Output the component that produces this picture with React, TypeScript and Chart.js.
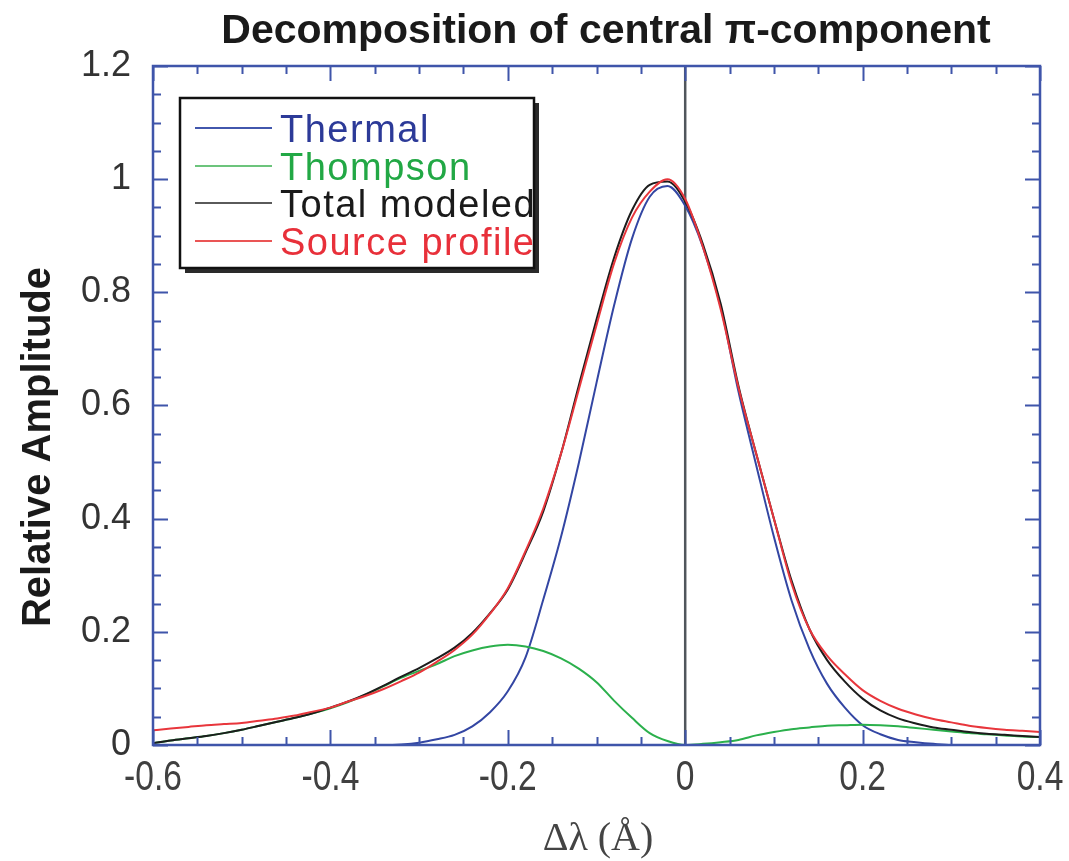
import React, { useEffect, useRef } from "react";
import { Chart, registerables } from "chart.js";
Chart.register(...registerables);

const xValues = [
  -0.6, -0.58, -0.56, -0.54, -0.52, -0.5, -0.48, -0.46, -0.44, -0.42,
  -0.4, -0.38, -0.36, -0.34, -0.32, -0.3, -0.28, -0.26, -0.24, -0.22,
  -0.2, -0.18, -0.16, -0.14, -0.12, -0.1, -0.08, -0.06, -0.04, -0.02,
  0.0, 0.02, 0.04, 0.06, 0.08, 0.1, 0.12, 0.14, 0.16, 0.18,
  0.2, 0.22, 0.24, 0.26, 0.28, 0.3, 0.32, 0.34, 0.36, 0.38, 0.4,
];

const thermal = [
  0, 0, 0, 0, 0, 0, 0, 0, 0, 0,
  0, 0, 0, 0, 0.001, 0.004, 0.01, 0.018, 0.033, 0.058,
  0.095, 0.155, 0.257, 0.368, 0.498, 0.64, 0.778, 0.895, 0.969, 0.988,
  0.953, 0.88, 0.775, 0.625, 0.495, 0.368, 0.255, 0.17, 0.108, 0.066,
  0.035, 0.019, 0.009, 0.005, 0.002, 0, 0, 0, 0, 0, 0,
];

const thompson = [
  0.003, 0.008, 0.012, 0.016, 0.021, 0.027, 0.034, 0.041, 0.048, 0.056,
  0.065, 0.076, 0.089, 0.104, 0.119, 0.131, 0.143, 0.157, 0.167, 0.174,
  0.177, 0.174, 0.166, 0.153, 0.135, 0.111, 0.078, 0.048, 0.021, 0.007,
  0.0, 0.002, 0.005, 0.009, 0.017, 0.023, 0.028, 0.031, 0.034, 0.035,
  0.036, 0.035, 0.033, 0.03, 0.027, 0.024, 0.021, 0.019, 0.017, 0.015, 0.014,
];

const totalModeled = [
  0.003, 0.008, 0.012, 0.016, 0.021, 0.027, 0.034, 0.041, 0.048, 0.056,
  0.066, 0.077, 0.09, 0.105, 0.121, 0.136, 0.153, 0.172, 0.198, 0.233,
  0.275, 0.34, 0.413, 0.515, 0.635, 0.752, 0.862, 0.945, 0.99, 0.996,
  0.96, 0.885, 0.78, 0.635, 0.515, 0.4, 0.29, 0.205, 0.15, 0.112,
  0.082, 0.061, 0.047, 0.038, 0.031, 0.027, 0.023, 0.02, 0.018, 0.016, 0.014,
];

const sourceProfile = [
  0.026, 0.029, 0.032, 0.035, 0.037, 0.039, 0.043, 0.047, 0.052, 0.059,
  0.066, 0.077, 0.087, 0.099, 0.113, 0.128, 0.147, 0.168, 0.195, 0.232,
  0.277, 0.343, 0.418, 0.515, 0.628, 0.742, 0.852, 0.932, 0.978, 1.0,
  0.965, 0.88, 0.77, 0.632, 0.515, 0.4, 0.285, 0.205, 0.158, 0.125,
  0.097, 0.078, 0.064, 0.054, 0.046, 0.04, 0.034, 0.03, 0.027, 0.025, 0.023,
];

const xTickLabels = ["-0.6", "-0.4", "-0.2", "0", "0.2", "0.4"];
const yTickLabels = ["0", "0.2", "0.4", "0.6", "0.8", "1", "1.2"];

const seriesNames = ["Thermal", "Thompson", "Total modeled", "Source profile"];
const lineColors = ["#3346a3", "#2bb04c", "#1c1c1c", "#e8363c"];
const legendLineColors = ["#4257ad", "#6cc47c", "#5a5a5a", "#ea5555"];
const legendTextColors = ["#2c3a98", "#22a845", "#1a1a1a", "#e8303a"];

const titleText = "Decomposition of central \u03c0-component";
const yTitleText = "Relative Amplitude";
const xTitleText = "\u0394\u03bb (\u00c5)";

function pts(ys: number[]) {
  return xValues.map((x, i) => ({ x, y: ys[i] }));
}

function labelFor(list: string[], v: number) {
  const r = Math.round(v * 10) / 10;
  const found = list.find((s) => Math.abs(parseFloat(s) - r) < 1e-9);
  return found ?? "";
}

const decoPlugin = {
  id: "deco",
  beforeDatasetsDraw(chart: any) {
    const { ctx, chartArea, scales } = chart;
    const x0 = scales.x.getPixelForValue(0);
    ctx.save();
    ctx.strokeStyle = "#50565c";
    ctx.lineWidth = 2.5;
    ctx.beginPath();
    ctx.moveTo(x0, chartArea.top);
    ctx.lineTo(x0, chartArea.bottom);
    ctx.stroke();
    ctx.restore();
  },
  afterDraw(chart: any) {
    const { ctx, chartArea, scales } = chart;
    const { left, right, top, bottom } = chartArea;
    const xs = scales.x;
    const ys = scales.y;
    ctx.save();
    // ticks inward
    ctx.strokeStyle = "#3f55aa";
    ctx.lineWidth = 2;
    ctx.beginPath();
    for (let k = 0; k <= 20; k++) {
      const v = -0.6 + k * 0.05;
      const px = Math.round(xs.getPixelForValue(v)) + 0.5;
      const len = k % 4 === 0 ? 15 : 8;
      ctx.moveTo(px, bottom);
      ctx.lineTo(px, bottom - len);
      ctx.moveTo(px, top);
      ctx.lineTo(px, top + len);
    }
    for (let k = 0; k <= 24; k++) {
      const v = k * 0.05;
      const py = Math.round(ys.getPixelForValue(v)) + 0.5;
      const len = k % 4 === 0 ? 15 : 8;
      ctx.moveTo(left, py);
      ctx.lineTo(left + len, py);
      ctx.moveTo(right, py);
      ctx.lineTo(right - len, py);
    }
    ctx.stroke();
    // frame
    ctx.lineWidth = 2.5;
    ctx.strokeRect(left, top, right - left, bottom - top);

    // x tick labels (condensed)
    ctx.fillStyle = "#404040";
    ctx.font = "42px Arial, 'Liberation Sans', sans-serif";
    ctx.textAlign = "center";
    ctx.textBaseline = "alphabetic";
    for (const s of xTickLabels) {
      const px = xs.getPixelForValue(parseFloat(s));
      ctx.save();
      ctx.translate(px, 790);
      ctx.scale(0.8, 1);
      ctx.fillText(s, 0, 0);
      ctx.restore();
    }

    // legend box
    const bx = 180, by = 98, bw = 354, bh = 170;
    ctx.fillStyle = "#2a2a2a";
    ctx.fillRect(bx + 5, by + 5, bw, bh);
    ctx.fillStyle = "#ffffff";
    ctx.fillRect(bx, by, bw, bh);
    ctx.strokeStyle = "#111";
    ctx.lineWidth = 2.5;
    ctx.strokeRect(bx, by, bw, bh);
    const rowY = [128, 166, 203, 241];
    ctx.font = "38px Arial, 'Liberation Sans', sans-serif";
    ctx.textBaseline = "alphabetic";
    ctx.textAlign = "left";
    (ctx as any).letterSpacing = "1.5px";
    for (let i = 0; i < 4; i++) {
      ctx.strokeStyle = legendLineColors[i];
      ctx.lineWidth = 2;
      ctx.beginPath();
      ctx.moveTo(195, rowY[i]);
      ctx.lineTo(272, rowY[i]);
      ctx.stroke();
      ctx.fillStyle = legendTextColors[i];
      ctx.fillText(seriesNames[i], 280, rowY[i] + 14);
    }
    (ctx as any).letterSpacing = "0px";

    // title
    ctx.fillStyle = "#1a1a1a";
    ctx.font = "bold 41px Arial, 'Liberation Sans', sans-serif";
    ctx.textAlign = "center";
    ctx.fillText(titleText, 606, 43);

    // y title
    ctx.save();
    ctx.translate(50, 447);
    ctx.rotate(-Math.PI / 2);
    ctx.font = "bold 40px Arial, 'Liberation Sans', sans-serif";
    ctx.fillStyle = "#1a1a1a";
    ctx.textAlign = "center";
    ctx.fillText(yTitleText, 0, 0);
    ctx.restore();

    // x title
    ctx.font = "40px 'Liberation Serif', 'Times New Roman', serif";
    ctx.fillStyle = "#444";
    ctx.textAlign = "center";
    ctx.fillText(xTitleText, 598, 850);
    ctx.restore();
  },
};

export default function App() {
  const ref = useRef<HTMLCanvasElement | null>(null);
  useEffect(() => {
    if (!ref.current) return;
    const mk = (i: number, ys: number[]) => ({
      label: seriesNames[i],
      data: pts(ys),
      borderColor: lineColors[i],
      borderWidth: 2,
      pointRadius: 0,
      fill: false,
      cubicInterpolationMode: "monotone" as const,
    });
    const chart = new Chart(ref.current, {
      type: "line",
      data: {
        datasets: [
          mk(3, sourceProfile),
          mk(2, totalModeled),
          mk(1, thompson),
          mk(0, thermal),
        ],
      },
      options: {
        animation: false,
        responsive: false,
        layout: { padding: { left: 0, right: 29, top: 66, bottom: 0 } },
        plugins: { legend: { display: false }, tooltip: { enabled: false }, title: { display: false } },
        scales: {
          x: {
            type: "linear",
            min: -0.6,
            max: 0.4,
            grid: { display: false, drawTicks: false },
            border: { display: false },
            ticks: {
              display: false,
              stepSize: 0.2,
              callback: (v: any) => labelFor(xTickLabels, Number(v)),
            },
            afterFit: (s: any) => {
              s.height = 116;
              s.paddingLeft = 0;
              s.paddingRight = 0;
            },
          },
          y: {
            type: "linear",
            min: 0,
            max: 1.2,
            grid: { display: false, drawTicks: false },
            border: { display: false },
            ticks: {
              stepSize: 0.2,
              padding: 22,
              color: "#333",
              font: { family: "Arial, 'Liberation Sans', sans-serif", size: 36 },
              callback: (v: any) => labelFor(yTickLabels, Number(v)),
            },
            afterFit: (s: any) => {
              s.width = 153;
              s.paddingTop = 0;
              s.paddingBottom = 0;
            },
          },
        },
      },
      plugins: [decoPlugin],
    });
    return () => chart.destroy();
  }, []);
  return (
    <div style={{ position: "absolute", left: 0, top: 0, width: 1069, height: 861, background: "#fff" }}>
      <canvas ref={ref} width={1069} height={861} />
    </div>
  );
}
